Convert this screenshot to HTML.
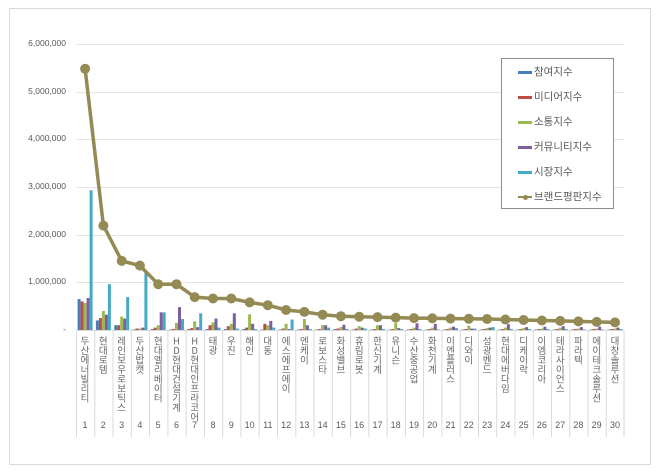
<!DOCTYPE html>
<html><head><meta charset="utf-8"><style>
body{margin:0;background:#fff;width:660px;height:474px;overflow:hidden;position:relative;font-family:"Liberation Sans","Noto Sans CJK KR",sans-serif;color:#595959}
.frame{position:absolute;left:9px;top:8px;width:642px;height:457px;border:1px solid #d9d9d9;box-sizing:border-box}
.yl{position:absolute;right:594px;font-size:8.5px;text-align:right}
.lab{position:absolute;top:336px;width:18px;height:90px;font-size:9.5px;line-height:18px;text-align:left;writing-mode:vertical-lr;text-orientation:upright;white-space:nowrap;font-family:"Noto Sans CJK KR",sans-serif;color:#666}
.num{position:absolute;top:420px;width:18px;font-size:9px;text-align:center}
.leg{position:absolute;left:501px;top:58px;width:113px;height:151px;border:1px solid #8c8c8c;box-sizing:border-box;background:#fff}
.li{position:absolute;left:16px;font-size:10.5px;font-family:"Noto Sans CJK KR",sans-serif;line-height:12px}
.sw{display:inline-block;width:14px;height:3px;vertical-align:middle;margin-right:2px}
</style></head><body>
<div class="frame"></div>
<svg width="660" height="474" style="position:absolute;left:0;top:0">
<g stroke="#e3e3e3" stroke-width="1">
<line x1="76" x2="624" y1="44.5" y2="44.5"/><line x1="76" x2="624" y1="92.5" y2="92.5"/><line x1="76" x2="624" y1="139.5" y2="139.5"/><line x1="76" x2="624" y1="187.5" y2="187.5"/><line x1="76" x2="624" y1="235.5" y2="235.5"/><line x1="76" x2="624" y1="282.5" y2="282.5"/>
</g>
<g stroke="#d9d9d9" stroke-width="1">
<line x1="76" x2="624" y1="330.5" y2="330.5"/>
<line x1="76.5" x2="76.5" y1="330" y2="437"/><line x1="94.8" x2="94.8" y1="330" y2="437"/><line x1="113" x2="113" y1="330" y2="437"/><line x1="131.3" x2="131.3" y1="330" y2="437"/><line x1="149.6" x2="149.6" y1="330" y2="437"/><line x1="167.9" x2="167.9" y1="330" y2="437"/><line x1="186.1" x2="186.1" y1="330" y2="437"/><line x1="204.4" x2="204.4" y1="330" y2="437"/><line x1="222.7" x2="222.7" y1="330" y2="437"/><line x1="240.9" x2="240.9" y1="330" y2="437"/><line x1="259.2" x2="259.2" y1="330" y2="437"/><line x1="277.5" x2="277.5" y1="330" y2="437"/><line x1="295.8" x2="295.8" y1="330" y2="437"/><line x1="314" x2="314" y1="330" y2="437"/><line x1="332.3" x2="332.3" y1="330" y2="437"/><line x1="350.6" x2="350.6" y1="330" y2="437"/><line x1="368.8" x2="368.8" y1="330" y2="437"/><line x1="387.1" x2="387.1" y1="330" y2="437"/><line x1="405.4" x2="405.4" y1="330" y2="437"/><line x1="423.6" x2="423.6" y1="330" y2="437"/><line x1="441.9" x2="441.9" y1="330" y2="437"/><line x1="460.2" x2="460.2" y1="330" y2="437"/><line x1="478.5" x2="478.5" y1="330" y2="437"/><line x1="496.7" x2="496.7" y1="330" y2="437"/><line x1="515" x2="515" y1="330" y2="437"/><line x1="533.3" x2="533.3" y1="330" y2="437"/><line x1="551.5" x2="551.5" y1="330" y2="437"/><line x1="569.8" x2="569.8" y1="330" y2="437"/><line x1="588.1" x2="588.1" y1="330" y2="437"/><line x1="606.3" x2="606.3" y1="330" y2="437"/><line x1="624" x2="624" y1="330" y2="437"/>
</g>
<style>.a{fill:#4a7ebb}.b{fill:#be4b48}.c{fill:#98b954}.d{fill:#7d5fa0}.e{fill:#46aac5}</style>
<g id="bars">
<g transform="translate(85.1,330) scale(1,-47.67)"><rect class="a" x="-7.5" width="3" height="0.65"/><rect class="b" x="-4.5" width="3" height="0.6"/><rect class="c" x="-1.5" width="3" height="0.57"/><rect class="d" x="1.5" width="3" height="0.67"/><rect class="e" x="4.5" width="3" height="2.93"/></g>
<g transform="translate(103.4,330) scale(1,-47.67)"><rect class="a" x="-7.5" width="3" height="0.2"/><rect class="b" x="-4.5" width="3" height="0.25"/><rect class="c" x="-1.5" width="3" height="0.4"/><rect class="d" x="1.5" width="3" height="0.32"/><rect class="e" x="4.5" width="3" height="0.96"/></g>
<g transform="translate(121.7,330) scale(1,-47.67)"><rect class="a" x="-7.5" width="3" height="0.1"/><rect class="b" x="-4.5" width="3" height="0.1"/><rect class="c" x="-1.5" width="3" height="0.28"/><rect class="d" x="1.5" width="3" height="0.24"/><rect class="e" x="4.5" width="3" height="0.69"/></g>
<g transform="translate(139.9,330) scale(1,-47.67)"><rect class="a" x="-7.5" width="3" height="0.01"/><rect class="b" x="-4.5" width="3" height="0.03"/><rect class="c" x="-1.5" width="3" height="0.03"/><rect class="d" x="1.5" width="3" height="0.05"/><rect class="e" x="4.5" width="3" height="1.2"/></g>
<g transform="translate(158.2,330) scale(1,-47.67)"><rect class="a" x="-7.5" width="3" height="0.02"/><rect class="b" x="-4.5" width="3" height="0.05"/><rect class="c" x="-1.5" width="3" height="0.1"/><rect class="d" x="1.5" width="3" height="0.37"/><rect class="e" x="4.5" width="3" height="0.37"/></g>
<g transform="translate(176.5,330) scale(1,-47.67)"><rect class="a" x="-7.5" width="3" height="0.01"/><rect class="b" x="-4.5" width="3" height="0.02"/><rect class="c" x="-1.5" width="3" height="0.15"/><rect class="d" x="1.5" width="3" height="0.48"/><rect class="e" x="4.5" width="3" height="0.23"/></g>
<g transform="translate(194.7,330) scale(1,-47.67)"><rect class="a" x="-7.5" width="3" height="0.02"/><rect class="b" x="-4.5" width="3" height="0.04"/><rect class="c" x="-1.5" width="3" height="0.18"/><rect class="d" x="1.5" width="3" height="0.06"/><rect class="e" x="4.5" width="3" height="0.35"/></g>
<g transform="translate(213,330) scale(1,-47.67)"><rect class="a" x="-7.5" width="3" height="0.02"/><rect class="b" x="-4.5" width="3" height="0.1"/><rect class="c" x="-1.5" width="3" height="0.16"/><rect class="d" x="1.5" width="3" height="0.24"/><rect class="e" x="4.5" width="3" height="0.05"/></g>
<g transform="translate(231.3,330) scale(1,-47.67)"><rect class="a" x="-7.5" width="3" height="0.02"/><rect class="b" x="-4.5" width="3" height="0.08"/><rect class="c" x="-1.5" width="3" height="0.13"/><rect class="d" x="1.5" width="3" height="0.35"/><rect class="e" x="4.5" width="3" height="0.03"/></g>
<g transform="translate(249.6,330) scale(1,-47.67)"><rect class="a" x="-7.5" width="3" height="0.02"/><rect class="b" x="-4.5" width="3" height="0.05"/><rect class="c" x="-1.5" width="3" height="0.33"/><rect class="d" x="1.5" width="3" height="0.13"/><rect class="e" x="4.5" width="3" height="0.02"/></g>
<g transform="translate(267.8,330) scale(1,-47.67)"><rect class="a" x="-7.5" width="3" height="0.01"/><rect class="b" x="-4.5" width="3" height="0.13"/><rect class="c" x="-1.5" width="3" height="0.1"/><rect class="d" x="1.5" width="3" height="0.19"/><rect class="e" x="4.5" width="3" height="0.05"/></g>
<g transform="translate(286.1,330) scale(1,-47.67)"><rect class="a" x="-7.5" width="3" height="0.01"/><rect class="b" x="-4.5" width="3" height="0.03"/><rect class="c" x="-1.5" width="3" height="0.13"/><rect class="d" x="1.5" width="3" height="0.02"/><rect class="e" x="4.5" width="3" height="0.22"/></g>
<g transform="translate(304.4,330) scale(1,-47.67)"><rect class="a" x="-7.5" width="3" height="0.01"/><rect class="b" x="-4.5" width="3" height="0.02"/><rect class="c" x="-1.5" width="3" height="0.23"/><rect class="d" x="1.5" width="3" height="0.1"/><rect class="e" x="4.5" width="3" height="0.02"/></g>
<g transform="translate(322.6,330) scale(1,-47.67)"><rect class="a" x="-7.5" width="3" height="0.01"/><rect class="b" x="-4.5" width="3" height="0.02"/><rect class="c" x="-1.5" width="3" height="0.1"/><rect class="d" x="1.5" width="3" height="0.1"/><rect class="e" x="4.5" width="3" height="0.05"/></g>
<g transform="translate(340.9,330) scale(1,-47.67)"><rect class="a" x="-7.5" width="3" height="0.02"/><rect class="b" x="-4.5" width="3" height="0.03"/><rect class="c" x="-1.5" width="3" height="0.06"/><rect class="d" x="1.5" width="3" height="0.11"/><rect class="e" x="4.5" width="3" height="0.02"/></g>
<g transform="translate(359.2,330) scale(1,-47.67)"><rect class="a" x="-7.5" width="3" height="0.01"/><rect class="b" x="-4.5" width="3" height="0.03"/><rect class="c" x="-1.5" width="3" height="0.08"/><rect class="d" x="1.5" width="3" height="0.05"/><rect class="e" x="4.5" width="3" height="0.03"/></g>
<g transform="translate(377.5,330) scale(1,-47.67)"><rect class="a" x="-7.5" width="3" height="0.01"/><rect class="b" x="-4.5" width="3" height="0.02"/><rect class="c" x="-1.5" width="3" height="0.1"/><rect class="d" x="1.5" width="3" height="0.1"/><rect class="e" x="4.5" width="3" height="0.02"/></g>
<g transform="translate(395.7,330) scale(1,-47.67)"><rect class="a" x="-7.5" width="3" height="0.01"/><rect class="b" x="-4.5" width="3" height="0.02"/><rect class="c" x="-1.5" width="3" height="0.15"/><rect class="d" x="1.5" width="3" height="0.04"/><rect class="e" x="4.5" width="3" height="0.02"/></g>
<g transform="translate(414,330) scale(1,-47.67)"><rect class="a" x="-7.5" width="3" height="0.01"/><rect class="b" x="-4.5" width="3" height="0.02"/><rect class="c" x="-1.5" width="3" height="0.05"/><rect class="d" x="1.5" width="3" height="0.14"/><rect class="e" x="4.5" width="3" height="0.02"/></g>
<g transform="translate(432.3,330) scale(1,-47.67)"><rect class="a" x="-7.5" width="3" height="0.01"/><rect class="b" x="-4.5" width="3" height="0.02"/><rect class="c" x="-1.5" width="3" height="0.05"/><rect class="d" x="1.5" width="3" height="0.13"/><rect class="e" x="4.5" width="3" height="0.01"/></g>
<g transform="translate(450.5,330) scale(1,-47.67)"><rect class="a" x="-7.5" width="3" height="0.01"/><rect class="b" x="-4.5" width="3" height="0.02"/><rect class="c" x="-1.5" width="3" height="0.05"/><rect class="d" x="1.5" width="3" height="0.07"/><rect class="e" x="4.5" width="3" height="0.04"/></g>
<g transform="translate(468.8,330) scale(1,-47.67)"><rect class="a" x="-7.5" width="3" height="0.01"/><rect class="b" x="-4.5" width="3" height="0.02"/><rect class="c" x="-1.5" width="3" height="0.09"/><rect class="d" x="1.5" width="3" height="0.03"/><rect class="e" x="4.5" width="3" height="0.03"/></g>
<g transform="translate(487.1,330) scale(1,-47.67)"><rect class="a" x="-7.5" width="3" height="0.01"/><rect class="b" x="-4.5" width="3" height="0.02"/><rect class="c" x="-1.5" width="3" height="0.04"/><rect class="d" x="1.5" width="3" height="0.05"/><rect class="e" x="4.5" width="3" height="0.06"/></g>
<g transform="translate(505.4,330) scale(1,-47.67)"><rect class="a" x="-7.5" width="3" height="0.01"/><rect class="b" x="-4.5" width="3" height="0.02"/><rect class="c" x="-1.5" width="3" height="0.05"/><rect class="d" x="1.5" width="3" height="0.12"/><rect class="e" x="4.5" width="3" height="0.02"/></g>
<g transform="translate(523.6,330) scale(1,-47.67)"><rect class="a" x="-7.5" width="3" height="0.01"/><rect class="b" x="-4.5" width="3" height="0.02"/><rect class="c" x="-1.5" width="3" height="0.04"/><rect class="d" x="1.5" width="3" height="0.06"/><rect class="e" x="4.5" width="3" height="0.02"/></g>
<g transform="translate(541.9,330) scale(1,-47.67)"><rect class="a" x="-7.5" width="3" height="0.01"/><rect class="b" x="-4.5" width="3" height="0.02"/><rect class="c" x="-1.5" width="3" height="0.03"/><rect class="d" x="1.5" width="3" height="0.07"/><rect class="e" x="4.5" width="3" height="0.02"/></g>
<g transform="translate(560.2,330) scale(1,-47.67)"><rect class="a" x="-7.5" width="3" height="0.01"/><rect class="b" x="-4.5" width="3" height="0.02"/><rect class="c" x="-1.5" width="3" height="0.05"/><rect class="d" x="1.5" width="3" height="0.08"/><rect class="e" x="4.5" width="3" height="0.02"/></g>
<g transform="translate(578.4,330) scale(1,-47.67)"><rect class="a" x="-7.5" width="3" height="0.01"/><rect class="b" x="-4.5" width="3" height="0.02"/><rect class="c" x="-1.5" width="3" height="0.03"/><rect class="d" x="1.5" width="3" height="0.06"/><rect class="e" x="4.5" width="3" height="0.01"/></g>
<g transform="translate(596.7,330) scale(1,-47.67)"><rect class="a" x="-7.5" width="3" height="0.01"/><rect class="b" x="-4.5" width="3" height="0.02"/><rect class="c" x="-1.5" width="3" height="0.03"/><rect class="d" x="1.5" width="3" height="0.07"/><rect class="e" x="4.5" width="3" height="0.01"/></g>
<g transform="translate(615,330) scale(1,-47.67)"><rect class="a" x="-7.5" width="3" height="0.01"/><rect class="b" x="-4.5" width="3" height="0.02"/><rect class="c" x="-1.5" width="3" height="0.03"/><rect class="d" x="1.5" width="3" height="0.05"/><rect class="e" x="4.5" width="3" height="0.02"/></g>
</g>
<polyline fill="none" stroke="#948a54" stroke-width="3.5" stroke-linejoin="round" points="85.1,68.8 103.4,225.6 121.7,260.9 139.9,265.6 158.2,284.2 176.5,284.2 194.7,297.1 213,298.5 231.3,298.5 249.6,302.4 267.8,305.2 286.1,310 304.4,311.9 322.6,314.7 340.9,316.2 359.2,316.7 377.5,317.1 395.7,317.6 414,318.1 432.3,318.3 450.5,318.6 468.8,318.8 487.1,319 505.4,319.5 523.6,320 541.9,320.5 560.2,320.9 578.4,321.4 596.7,321.9 615,322.4"/>
<g fill="#948a54">
<circle cx="85.1" cy="68.8" r="5"/><circle cx="103.4" cy="225.6" r="5"/><circle cx="121.7" cy="260.9" r="5"/><circle cx="139.9" cy="265.6" r="5"/><circle cx="158.2" cy="284.2" r="5"/><circle cx="176.5" cy="284.2" r="5"/><circle cx="194.7" cy="297.1" r="5"/><circle cx="213" cy="298.5" r="5"/><circle cx="231.3" cy="298.5" r="5"/><circle cx="249.6" cy="302.4" r="5"/><circle cx="267.8" cy="305.2" r="5"/><circle cx="286.1" cy="310" r="5"/><circle cx="304.4" cy="311.9" r="5"/><circle cx="322.6" cy="314.7" r="5"/><circle cx="340.9" cy="316.2" r="5"/><circle cx="359.2" cy="316.7" r="5"/><circle cx="377.5" cy="317.1" r="5"/><circle cx="395.7" cy="317.6" r="5"/><circle cx="414" cy="318.1" r="5"/><circle cx="432.3" cy="318.3" r="5"/><circle cx="450.5" cy="318.6" r="5"/><circle cx="468.8" cy="318.8" r="5"/><circle cx="487.1" cy="319" r="5"/><circle cx="505.4" cy="319.5" r="5"/><circle cx="523.6" cy="320" r="5"/><circle cx="541.9" cy="320.5" r="5"/><circle cx="560.2" cy="320.9" r="5"/><circle cx="578.4" cy="321.4" r="5"/><circle cx="596.7" cy="321.9" r="5"/><circle cx="615" cy="322.4" r="5"/>
</g>
</svg>
<div class="yl" style="top:38px">6,000,000</div>
<div class="yl" style="top:86px">5,000,000</div>
<div class="yl" style="top:133px">4,000,000</div>
<div class="yl" style="top:181px">3,000,000</div>
<div class="yl" style="top:229px">2,000,000</div>
<div class="yl" style="top:276px">1,000,000</div>
<div class="yl" style="top:324px">-</div>

<div class="lab" style="left:76px">두산에너빌리티</div>
<div class="lab" style="left:94.3px">현대로템</div>
<div class="lab" style="left:112.6px">레인보우로보틱스</div>
<div class="lab" style="left:130.9px">두산밥캣</div>
<div class="lab" style="left:149.2px">현대엘리베이터</div>
<div class="lab" style="left:167.5px">HD현대건설기계</div>
<div class="lab" style="left:185.7px">HD현대인프라코어</div>
<div class="lab" style="left:204px">태광</div>
<div class="lab" style="left:222.3px">우진</div>
<div class="lab" style="left:240.6px">해인</div>
<div class="lab" style="left:258.8px">대동</div>
<div class="lab" style="left:277.1px">에스에프에이</div>
<div class="lab" style="left:295.4px">엔케이</div>
<div class="lab" style="left:313.6px">로보스타</div>
<div class="lab" style="left:331.9px">화성밸브</div>
<div class="lab" style="left:350.2px">휴림로봇</div>
<div class="lab" style="left:368.5px">한신기계</div>
<div class="lab" style="left:386.7px">유니슨</div>
<div class="lab" style="left:405px">수산중공업</div>
<div class="lab" style="left:423.3px">화천기계</div>
<div class="lab" style="left:441.5px">이엔플러스</div>
<div class="lab" style="left:459.8px">디와이</div>
<div class="lab" style="left:478.1px">성광벤드</div>
<div class="lab" style="left:496.4px">현대에버다임</div>
<div class="lab" style="left:514.6px">디케이락</div>
<div class="lab" style="left:532.9px">이엠코리아</div>
<div class="lab" style="left:551.2px">테라사이언스</div>
<div class="lab" style="left:569.4px">파라텍</div>
<div class="lab" style="left:587.7px">에이테크솔루션</div>
<div class="lab" style="left:606px">대창솔루션</div>

<div class="num" style="left:76px">1</div><div class="num" style="left:94.3px">2</div><div class="num" style="left:112.6px">3</div><div class="num" style="left:130.9px">4</div><div class="num" style="left:149.2px">5</div><div class="num" style="left:167.5px">6</div><div class="num" style="left:185.7px">7</div><div class="num" style="left:204px">8</div><div class="num" style="left:222.3px">9</div><div class="num" style="left:240.6px">10</div><div class="num" style="left:258.8px">11</div><div class="num" style="left:277.1px">12</div><div class="num" style="left:295.4px">13</div><div class="num" style="left:313.6px">14</div><div class="num" style="left:331.9px">15</div><div class="num" style="left:350.2px">16</div><div class="num" style="left:368.5px">17</div><div class="num" style="left:386.7px">18</div><div class="num" style="left:405px">19</div><div class="num" style="left:423.3px">20</div><div class="num" style="left:441.5px">21</div><div class="num" style="left:459.8px">22</div><div class="num" style="left:478.1px">23</div><div class="num" style="left:496.4px">24</div><div class="num" style="left:514.6px">25</div><div class="num" style="left:532.9px">26</div><div class="num" style="left:551.2px">27</div><div class="num" style="left:569.4px">28</div><div class="num" style="left:587.7px">29</div><div class="num" style="left:606px">30</div>

<div class="leg">
<div class="li" style="top:7px"><span class="sw" style="background:#4a7ebb"></span>참여지수</div>
<div class="li" style="top:32px"><span class="sw" style="background:#be4b48"></span>미디어지수</div>
<div class="li" style="top:57px"><span class="sw" style="background:#98b954"></span>소통지수</div>
<div class="li" style="top:82px"><span class="sw" style="background:#7d5fa0"></span>커뮤니티지수</div>
<div class="li" style="top:107px"><span class="sw" style="background:#46aac5"></span>시장지수</div>
<div class="li" style="top:132px"><span class="sw" style="background:#948a54;height:2px;position:relative"><span style="position:absolute;left:5px;top:-1.5px;width:5px;height:5px;border-radius:50%;background:#948a54"></span></span>브랜드평판지수</div>
</div>
</body></html>
